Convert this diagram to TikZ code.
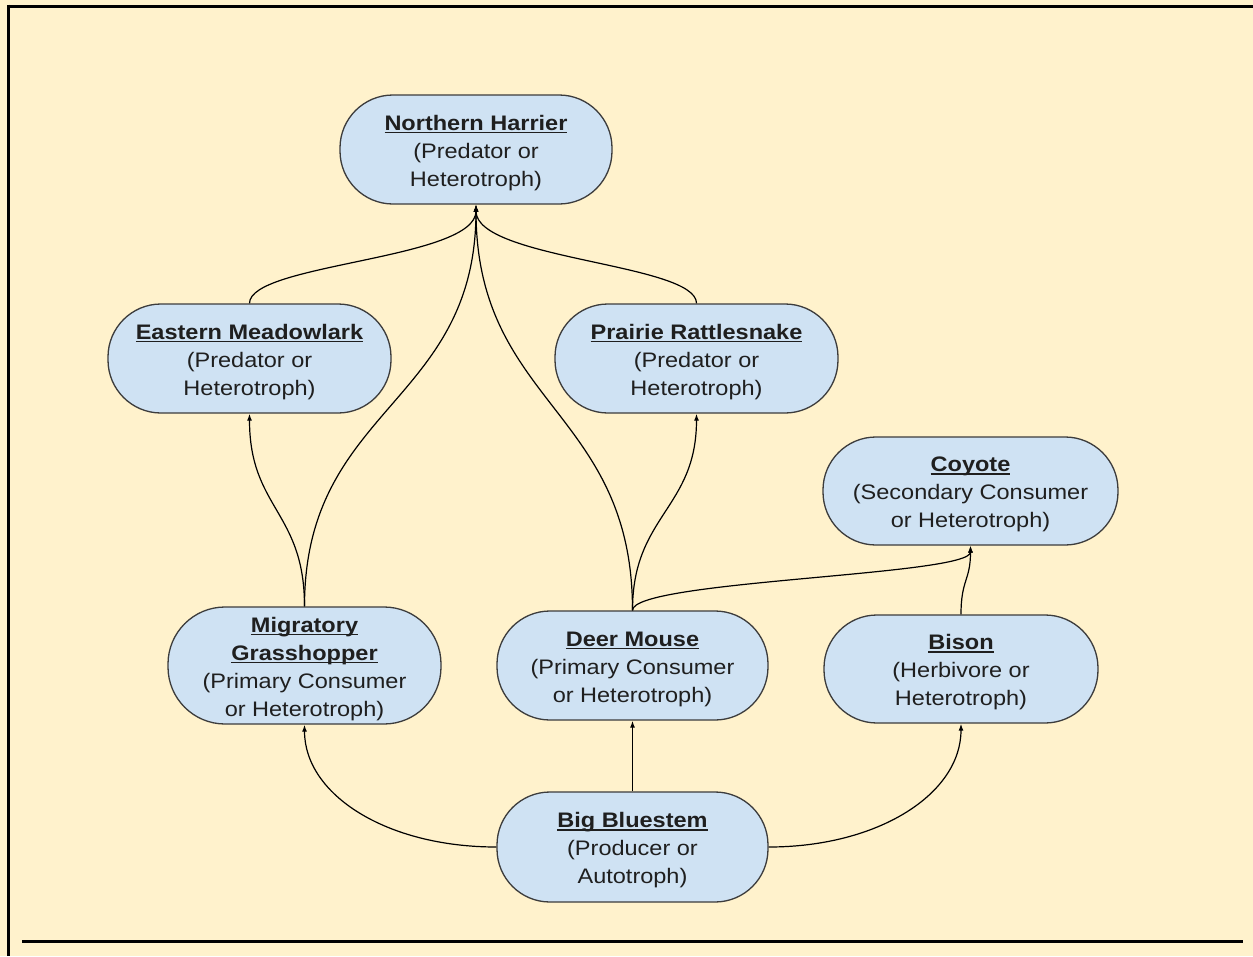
\documentclass[tikz,border=0pt]{standalone}
\usepackage{fontspec}
\setmainfont{Liberation Sans}[FakeStretch=1.12]
\usetikzlibrary{arrows.meta}
\definecolor{bg}{HTML}{FFF2CC}
\definecolor{nodefill}{HTML}{CFE2F3}
\definecolor{nodeline}{HTML}{3C3C3C}
\definecolor{txt}{HTML}{1F1F1F}
\newcommand\myul[1]{\setbox0\hbox{\textbf{#1}}\rule{0pt}{21.5pt}\rlap{\rule[-3.2pt]{\wd0}{1.3pt}}\box0}
\tikzset{
  organism/.style={draw=nodeline, line width=1.3pt, fill=nodefill, rounded corners=53pt,
    minimum height=109pt, inner sep=0pt, align=center, text=txt,
    font=\fontsize{21pt}{28pt}\selectfont},
  flow/.style={draw=black, line width=1.2pt, -{Latex[length=7pt,width=5pt]}},
  frameline/.style={line width=3pt, black}
}
\begin{document}
\begin{tikzpicture}[x=1pt,y=-1pt]
\useasboundingbox (0,0) rectangle (1253,956);
\fill[bg] (0,0) rectangle (1253,956);
\draw[frameline] (7,6) -- (1253,6);
\draw[frameline] (8.5,4.5) -- (8.5,956);
\draw[frameline] (22,941.5) -- (1243,941.5);

\node[organism, minimum width=272pt] (nh) at (476,149.5) {\myul{Northern Harrier}\\(Predator or\\Heterotroph)};
\node[organism, minimum width=283pt] (em) at (249.5,358.5) {\myul{Eastern Meadowlark}\\(Predator or\\Heterotroph)};
\node[organism, minimum width=283pt] (pr) at (696.5,358.5) {\myul{Prairie Rattlesnake}\\(Predator or\\Heterotroph)};
\node[organism, minimum width=295pt, minimum height=108pt] (coy) at (970.5,491) {\myul{Coyote}\\(Secondary Consumer\\or Heterotroph)};
\node[organism, minimum width=273pt, minimum height=117pt, rounded corners=57pt] (mg) at (304.5,665.5) {\myul{Migratory}\\\myul{Grasshopper}\\(Primary Consumer\\or Heterotroph)};
\node[organism, minimum width=271pt] (dm) at (632.5,665.5) {\myul{Deer Mouse}\\(Primary Consumer\\or Heterotroph)};
\node[organism, minimum width=274pt, minimum height=108pt] (bi) at (961,669) {\myul{Bison}\\(Herbivore or\\Heterotroph)};
\node[organism, minimum width=271pt, minimum height=110pt] (bb) at (632.5,847) {\myul{Big Bluestem}\\(Producer or\\Autotroph)};

\draw[flow] (em.north) .. controls +(0,-40) and +(0,55) .. (nh.south);
\draw[flow] (pr.north) .. controls +(0,-40) and +(0,55) .. (nh.south);
\draw[flow] (mg.north) .. controls +(0,-200) and +(0,200) .. (nh.south);
\draw[flow] (dm.north) .. controls +(0,-200) and +(0,200) .. (nh.south);
\draw[flow] (mg.north) .. controls +(0,-95) and +(0,95) .. (em.south);
\draw[flow] (dm.north) .. controls +(0,-95) and +(0,95) .. (pr.south);
\draw[flow] (dm.north) .. controls +(0,-30) and +(0,30) .. (coy.south);
\draw[flow] (bi.north) .. controls +(0,-35) and +(0,35) .. (coy.south);
\draw[flow] (bb.north) -- (dm.south);
\draw[flow] (bb.west) .. controls +(-110,0) and +(0,70) .. (mg.south);
\draw[flow] (bb.east) .. controls +(110,0) and +(0,70) .. (bi.south);
\end{tikzpicture}
\end{document}
